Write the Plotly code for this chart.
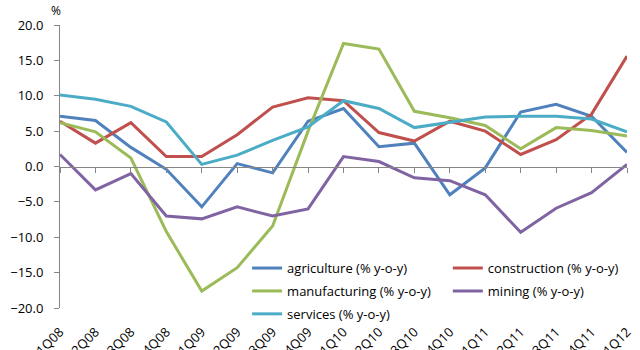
import plotly.graph_objects as go

quarters = ["1Q08", "2Q08", "3Q08", "4Q08", "1Q09", "2Q09", "3Q09", "4Q09",
            "1Q10", "2Q10", "3Q10", "4Q10", "1Q11", "2Q11", "3Q11", "4Q11", "1Q12"]

agriculture = [7.1, 6.5, 2.7, -0.4, -5.7, 0.4, -0.9, 6.4, 8.2, 2.8, 3.3, -4.0, -0.2, 7.7, 8.8, 7.1, 2.0]
construction = [6.4, 3.3, 6.2, 1.4, 1.4, 4.5, 8.4, 9.7, 9.3, 4.8, 3.6, 6.4, 5.0, 1.7, 3.8, 7.4, 15.6]
manufacturing = [6.2, 4.9, 1.2, -9.2, -17.6, -14.3, -8.4, 5.0, 17.4, 16.6, 7.8, 6.9, 5.8, 2.5, 5.5, 5.1, 4.3]
mining = [1.7, -3.3, -1.0, -7.0, -7.4, -5.7, -7.0, -6.0, 1.4, 0.7, -1.6, -2.0, -4.0, -9.3, -5.9, -3.7, 0.3]
services = [10.1, 9.5, 8.5, 6.3, 0.3, 1.6, 3.7, 5.6, 9.3, 8.2, 5.5, 6.2, 7.0, 7.1, 7.1, 6.7, 4.9]

# (name, values, colour, legend column)
series = [
    ("agriculture (% y-o-y)", agriculture, "#4F81BD", "legend"),
    ("construction (% y-o-y)", construction, "#C0504D", "legend2"),
    ("manufacturing (% y-o-y)", manufacturing, "#9BBB59", "legend"),
    ("mining (% y-o-y)", mining, "#8064A2", "legend2"),
    ("services (% y-o-y)", services, "#4BACC6", "legend"),
]

font_family = "Open Sans, DejaVu Sans, sans-serif"

fig = go.Figure()
for name, vals, color, leg in series:
    fig.add_trace(go.Scatter(x=quarters, y=vals, mode="lines", name=name,
                             legend=leg, legendgroup=name,
                             line=dict(color=color, width=3)))

# empty helper trace so the zero-crossing category axis (ticks) gets drawn
fig.add_trace(go.Scatter(x=quarters, y=[None] * len(quarters), xaxis="x2",
                         showlegend=False, hoverinfo="skip", mode="lines"))

legend_common = dict(
    orientation="v", yanchor="top", xanchor="left",
    bgcolor="rgba(0,0,0,0)", font=dict(size=13),
    tracegroupgap=3,
)

fig.update_layout(
    width=640, height=350,
    margin=dict(l=60, r=13, t=25, b=42),
    plot_bgcolor="white", paper_bgcolor="white",
    font=dict(family=font_family, size=13, color="#000000"),
    xaxis=dict(
        type="category", range=[0, 16], automargin=False,
        showline=False, ticks="", showgrid=False, zeroline=False,
        tickangle=-45, ticklabelstandoff=13,
        tickfont=dict(size=13),
    ),
    xaxis2=dict(
        type="category", overlaying="x", anchor="free", position=0.5,
        range=[0, 16], automargin=False,
        showline=True, linecolor="#868686", linewidth=1,
        ticks="outside", ticklen=5, tickcolor="#868686",
        showticklabels=False, showgrid=False, zeroline=False,
    ),
    yaxis=dict(
        range=[-20, 20], dtick=5, tickformat=".1f", automargin=False,
        showline=True, linecolor="#868686", linewidth=1,
        ticks="outside", ticklen=5, tickcolor="#868686",
        showgrid=False, zeroline=False,
        ticklabelstandoff=8, tickfont=dict(size=13),
    ),
    legend=dict(x=0.33, y=0.194, **legend_common),
    legend2=dict(x=0.684, y=0.194, **legend_common),
    showlegend=True,
    annotations=[dict(text="%", xref="paper", yref="paper", x=-0.019, y=1.015,
                      xanchor="left", yanchor="bottom", showarrow=False,
                      font=dict(size=12))],
)

fig.write_html("out.html")
